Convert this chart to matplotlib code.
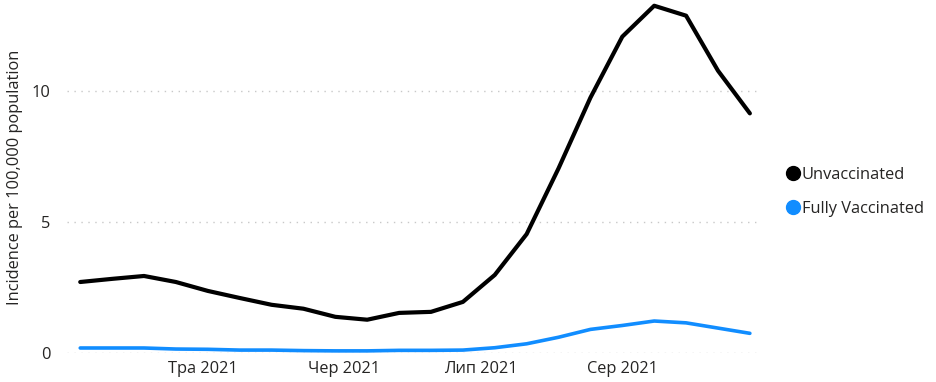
import pandas as pd
import matplotlib
matplotlib.use("Agg")
import matplotlib.pyplot as plt
from matplotlib.lines import Line2D

plt.rcParams['font.family'] = ['Open Sans', 'DejaVu Sans']

# weekly data, Apr - Aug 2021
weeks = pd.date_range("2021-04-04", "2021-08-29", freq="7D")
unvaccinated = [2.71, 2.83, 2.94, 2.71, 2.37, 2.10, 1.84, 1.69, 1.38, 1.27, 1.53,
                1.57, 1.95, 2.98, 4.54, 7.05, 9.75, 12.08, 13.26, 12.88, 10.78, 9.15]
fully_vaccinated = [0.19, 0.19, 0.19, 0.15, 0.14, 0.11, 0.11, 0.09, 0.08, 0.08, 0.10,
                    0.10, 0.11, 0.20, 0.35, 0.60, 0.90, 1.05, 1.22, 1.15, 0.95, 0.75]
tick_dates = pd.to_datetime(["2021-05-01", "2021-06-01", "2021-07-01", "2021-08-01"])
tick_labels = ["Тра 2021", "Чер 2021", "Лип 2021", "Сер 2021"]
series_names = ["Unvaccinated", "Fully Vaccinated"]
colors = ["#000000", "#118DFF"]

fig = plt.figure(figsize=(9.36, 3.82), dpi=100)
ax = fig.add_axes([0.0716, 0.076, 0.7383, 0.922])

ax.plot(weeks, unvaccinated, color=colors[0], lw=3.0, solid_capstyle='round',
        solid_joinstyle='round', clip_on=False, zorder=3)
ax.plot(weeks, fully_vaccinated, color=colors[1], lw=2.6, solid_capstyle='round',
        solid_joinstyle='round', clip_on=False, zorder=3)

ax.set_xlim(weeks[0] - pd.Timedelta(days=2.9), weeks[-1] + pd.Timedelta(days=1.8))
ax.set_ylim(0, 13.45)
ax.set_xticks(tick_dates)
ax.set_xticklabels(tick_labels)
ax.set_yticks([0, 5, 10])
ax.set_yticklabels(["0", "5", "10"])

ax.tick_params(axis='both', length=0, labelsize=11.8, colors='#252423')
ax.tick_params(axis='x', pad=6)
ax.tick_params(axis='y', pad=12)
ax.grid(axis='y', color='#C8C8C8', linestyle=(0, (1, 4)), linewidth=1)
ax.set_axisbelow(True)
for s in ax.spines.values():
    s.set_visible(False)

ax.set_ylabel("Incidence per 100,000 population", fontsize=11.8, color='#252423', labelpad=6)

handles = [Line2D([], [], marker='o', linestyle='none', color=c, markersize=10) for c in colors]
fig.legend(handles, series_names, loc='center left', bbox_to_anchor=(0.831, 0.497),
           frameon=False, fontsize=11.8, handletextpad=0.05, labelspacing=1.1,
           handlelength=1.0, borderaxespad=0, labelcolor='#252423')

fig.savefig("out.png", dpi=100)
